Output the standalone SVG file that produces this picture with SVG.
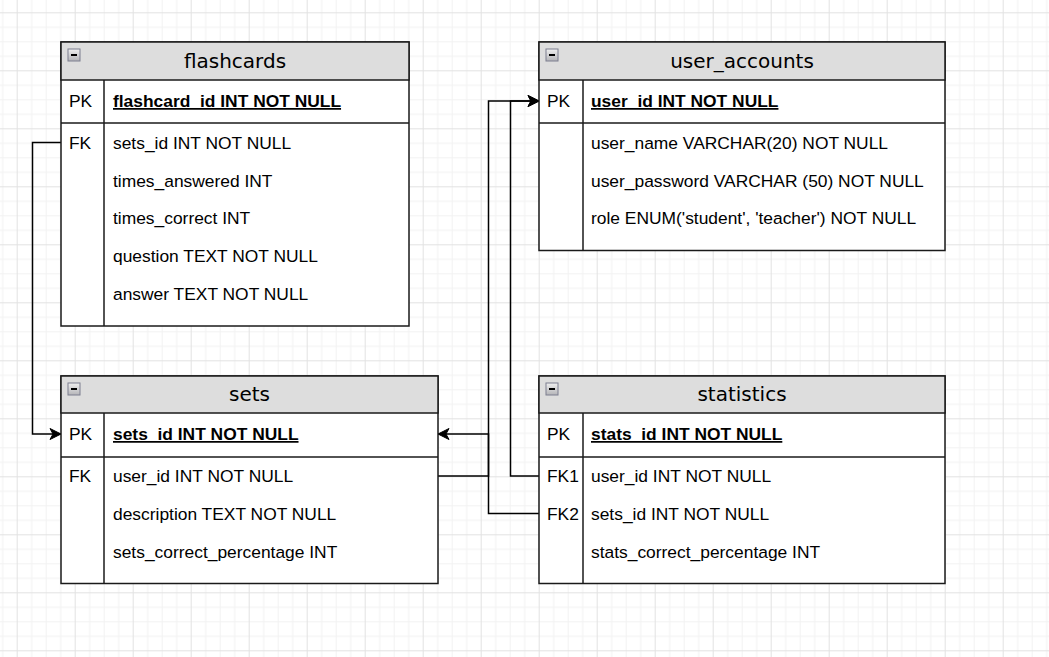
<svg xmlns="http://www.w3.org/2000/svg" width="1049" height="657" viewBox="0 0 1049 657">
<defs>
  <pattern id="grid" x="16.7" y="12.3" width="58" height="58" patternUnits="userSpaceOnUse">
    <rect x="0" y="0" width="58" height="58" fill="#ffffff"/>
    <g fill="#f2f2f2">
      <rect x="14.5" y="0" width="1" height="58"/>
      <rect x="29" y="0" width="1" height="58"/>
      <rect x="43.5" y="0" width="1" height="58"/>
      <rect x="0" y="14.5" width="58" height="1"/>
      <rect x="0" y="29" width="58" height="1"/>
      <rect x="0" y="43.5" width="58" height="1"/>
    </g>
    <g fill="#e2e2e2">
      <rect x="0" y="0" width="1" height="58"/>
      <rect x="0" y="0" width="58" height="1"/>
    </g>
  </pattern>
  <linearGradient id="iconGrad" x1="0" y1="0" x2="0" y2="1">
    <stop offset="0" stop-color="#f0f0f0"/>
    <stop offset="1" stop-color="#b4b4b8"/>
  </linearGradient>
  <marker id="arrow" markerUnits="userSpaceOnUse" markerWidth="14" markerHeight="14" viewBox="0 0 14 14" refX="12" refY="7" orient="auto">
    <path d="M1,1.5 L12,7 L1,12.5 L4,7 Z" fill="#000000" stroke="#000000" stroke-width="1"/>
  </marker>
  <g id="icon">
    <rect x="0.5" y="0.5" width="12" height="12" fill="url(#iconGrad)" stroke="#7d7f90" stroke-width="1"/>
    <rect x="3.5" y="5.5" width="6" height="2" fill="#000000"/>
  </g>
</defs>
<style>
  .frame { fill: #ffffff; stroke: #1a1a1a; stroke-width: 1.5; }
  .head { fill: #dddddd; stroke: #1a1a1a; stroke-width: 1.5; }
  .sep { stroke: #1a1a1a; stroke-width: 1.5; fill: none; }
  .title { font-family: "DejaVu Sans", Verdana, sans-serif; font-size: 20px; fill: #000000; text-anchor: middle; }
  .row { font-family: "Liberation Sans", Arial, sans-serif; font-size: 17.4px; fill: #000000; }
  .key { font-family: "Liberation Sans", Arial, sans-serif; font-size: 17.4px; fill: #000000; font-weight: bold; text-decoration: underline; }
  .conn { stroke: #000000; stroke-width: 1.5; fill: none; }
</style>

<rect x="0" y="0" width="1049" height="657" fill="url(#grid)"/>

<g id="connectors">
  <path class="conn" d="M61,142.5 H32.5 V434 H61" marker-end="url(#arrow)"/>
  <path class="conn" d="M438,476 H488.5 V101 H539" marker-end="url(#arrow)"/>
  <path class="conn" d="M539,476 H510.5 V101 H539" marker-end="url(#arrow)"/>
  <path class="conn" d="M539,513.5 H488.5 V434 H438" marker-end="url(#arrow)"/>
</g>

<g id="flashcards">
  <rect class="frame" x="61" y="42" width="348" height="284"/>
  <rect class="head" x="61" y="42" width="348" height="38"/>
  <line class="sep" x1="61" y1="123" x2="409" y2="123"/>
  <line class="sep" x1="104" y1="80" x2="104" y2="326"/>
  <use href="#icon" x="67.5" y="48.5"/>
  <text class="title" x="235" y="68">flashcards</text>
  <text class="row" x="69" y="107">PK</text>
  <text class="key" x="113" y="107">flashcard_id INT NOT NULL</text>
  <text class="row" x="69" y="149">FK</text>
  <text class="row" x="113" y="149">sets_id INT NOT NULL</text>
  <text class="row" x="113" y="187">times_answered INT</text>
  <text class="row" x="113" y="224">times_correct INT</text>
  <text class="row" x="113" y="262">question TEXT NOT NULL</text>
  <text class="row" x="113" y="300">answer TEXT NOT NULL</text>
</g>

<g id="user_accounts">
  <rect class="frame" x="539" y="42" width="406" height="208.5"/>
  <rect class="head" x="539" y="42" width="406" height="38"/>
  <line class="sep" x1="539" y1="123" x2="945" y2="123"/>
  <line class="sep" x1="583" y1="80" x2="583" y2="250.5"/>
  <use href="#icon" x="545.5" y="48.5"/>
  <text class="title" x="742" y="68">user_accounts</text>
  <text class="row" x="547" y="107">PK</text>
  <text class="key" x="591" y="107">user_id INT NOT NULL</text>
  <text class="row" x="591" y="149">user_name VARCHAR(20) NOT NULL</text>
  <text class="row" x="591" y="187">user_password VARCHAR (50) NOT NULL</text>
  <text class="row" x="591" y="224">role ENUM('student', 'teacher') NOT NULL</text>
</g>

<g id="sets">
  <rect class="frame" x="61" y="376" width="377" height="207.5"/>
  <rect class="head" x="61" y="376" width="377" height="37"/>
  <line class="sep" x1="61" y1="457" x2="438" y2="457"/>
  <line class="sep" x1="104" y1="413" x2="104" y2="583.5"/>
  <use href="#icon" x="67.5" y="382.5"/>
  <text class="title" x="249.5" y="401">sets</text>
  <text class="row" x="69" y="440">PK</text>
  <text class="key" x="113" y="440">sets_id INT NOT NULL</text>
  <text class="row" x="69" y="482">FK</text>
  <text class="row" x="113" y="482">user_id INT NOT NULL</text>
  <text class="row" x="113" y="520">description TEXT NOT NULL</text>
  <text class="row" x="113" y="558">sets_correct_percentage INT</text>
</g>

<g id="statistics">
  <rect class="frame" x="539" y="376" width="406" height="207.5"/>
  <rect class="head" x="539" y="376" width="406" height="37"/>
  <line class="sep" x1="539" y1="457" x2="945" y2="457"/>
  <line class="sep" x1="583" y1="413" x2="583" y2="583.5"/>
  <use href="#icon" x="545.5" y="382.5"/>
  <text class="title" x="742" y="401">statistics</text>
  <text class="row" x="547" y="440">PK</text>
  <text class="key" x="591" y="440">stats_id INT NOT NULL</text>
  <text class="row" x="547" y="482">FK1</text>
  <text class="row" x="591" y="482">user_id INT NOT NULL</text>
  <text class="row" x="547" y="520">FK2</text>
  <text class="row" x="591" y="520">sets_id INT NOT NULL</text>
  <text class="row" x="591" y="558">stats_correct_percentage INT</text>
</g>
</svg>
